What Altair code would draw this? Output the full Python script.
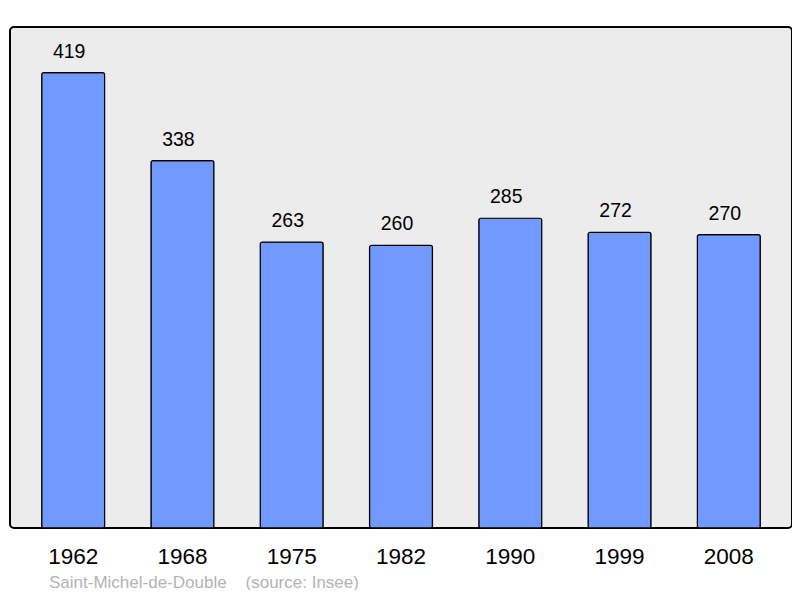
import altair as alt
import pandas as pd

years = ["1962", "1968", "1975", "1982", "1990", "1999", "2008"]
population = [419, 338, 263, 260, 285, 272, 270]
caption = "Saint-Michel-de-Double\u00a0\u00a0\u00a0\u00a0(source: Insee)"

df = pd.DataFrame({"year": years, "pop": population})

x = alt.X("year:N", sort=years,
          scale=alt.Scale(paddingInner=0.424, paddingOuter=0.29),
          axis=alt.Axis(title=None, labelAngle=0, domain=False, ticks=False,
                        labelFontSize=22.5, labelPadding=17, labelColor="#000",
                        labelFont="Liberation Sans"))
y = alt.Y("pop:Q", scale=alt.Scale(domain=[0, 461], nice=False),
          axis=None)

bars = alt.Chart(df).mark_bar(
    color="#7199ff", stroke="#000", strokeWidth=1.2, cornerRadius=2
).encode(x=x, y=y)

labels = alt.Chart(df).mark_text(
    dy=-21, dx=-4, fontSize=19.5, font="Liberation Sans", color="#000", baseline="middle"
).encode(x=x, y=y, text="pop:Q")

cap = alt.Chart(pd.DataFrame({"t": [caption]})).mark_text(
    align="left", baseline="middle", fontSize=17, font="Liberation Sans",
    color="#b4b4b4"
).encode(x=alt.value(39), y=alt.value(556), text="t:N")

chart = alt.layer(bars, labels, cap).properties(
    width=782, height=501,
    autosize=alt.AutoSizeParams(type="none"),
    padding={"left": 2, "top": 19, "right": 0, "bottom": 62},
).configure_view(
    fill="#ececec", stroke="#000", strokeWidth=2, cornerRadius=4
)

chart.save("out.html", embed_options={"renderer": "svg", "actions": False})
